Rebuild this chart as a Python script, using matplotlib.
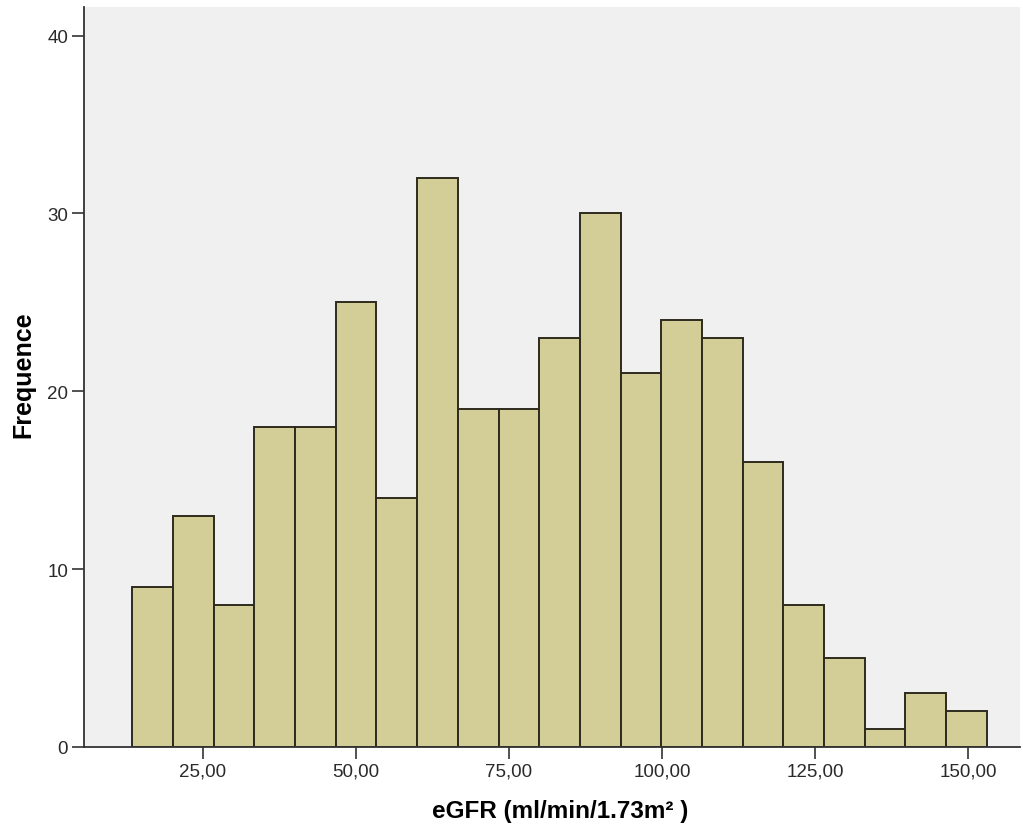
import matplotlib.pyplot as plt
import numpy as np

plt.rcParams["font.family"] = ["Liberation Sans", "DejaVu Sans"]

# histogram counts (21 bins)
counts = [9, 13, 8, 18, 18, 25, 14, 32, 19, 19, 23, 30, 21, 24, 23, 16, 8, 5, 1, 3, 2]
bin_start = 13.45
bin_width = 6.65

x_ticks = [25, 50, 75, 100, 125, 150]
y_ticks = [0, 10, 20, 30, 40]

edges = bin_start + bin_width * np.arange(len(counts))

fig = plt.figure(figsize=(10.23, 8.29), dpi=100)
ax = fig.add_axes([0.0821, 0.098, 0.9149, 0.892])
ax.set_facecolor("#F0F0F0")

ax.bar(edges, counts, width=bin_width, align="edge",
       color="#D3CE98", edgecolor="#2E2B1E", linewidth=1.4)

ax.set_xlim(5.56, 158.5)
ax.set_ylim(0, 41.6)
ax.set_xticks(x_ticks)
ax.set_xticklabels([f"{v:.2f}".replace(".", ",") for v in x_ticks])
ax.set_yticks(y_ticks)

for side in ["top", "right"]:
    ax.spines[side].set_visible(False)
for side in ["left", "bottom"]:
    ax.spines[side].set_color("#333333")
    ax.spines[side].set_linewidth(1.3)

ax.tick_params(axis="both", length=8.5, width=1.2, color="#333333",
               labelsize=13.5, labelcolor="#2a2a2a", pad=3)

ax.set_xlabel("eGFR (ml/min/1.73m² )", fontsize=17.5, fontweight="bold", va="center")
ax.set_ylabel("Frequence", fontsize=18, fontweight="bold", va="center")
ax.xaxis.set_label_coords(0.5085, -0.0856)
ax.yaxis.set_label_coords(-0.065, 0.5045)

fig.savefig("out.png", dpi=100)
